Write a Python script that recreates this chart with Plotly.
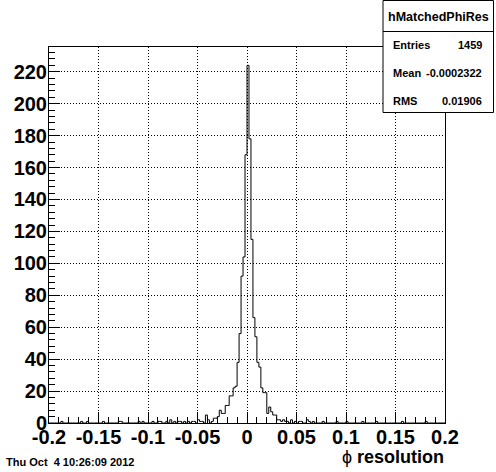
import plotly.graph_objects as go

# ---------------- data ----------------
x_min, x_max, n_bins = -0.2, 0.2, 200

# non-zero bin contents: bin index -> entries (bin i covers [-0.2+0.002*i, -0.2+0.002*(i+1)])
left_tail = {6: 1, 16: 1, 19: 1, 27: 1, 35: 1, 36: 1, 45: 1, 47: 1, 52: 1, 55: 1, 56: 1,
             59: 1, 61: 2, 63: 1, 65: 1, 66: 1, 68: 1, 70: 1, 72: 1, 73: 1, 75: 2, 76: 1, 77: 1}
core = {79: 5, 80: 2, 82: 1, 83: 3, 84: 3, 85: 4, 86: 8, 87: 6, 88: 6, 89: 11, 90: 11,
        91: 17, 92: 17, 93: 22, 94: 23, 95: 38, 96: 56, 97: 92, 98: 104, 99: 168,
        100: 224, 101: 178, 102: 115, 103: 66, 104: 54, 105: 38, 106: 35, 107: 22,
        108: 19, 109: 19, 110: 6, 111: 10, 112: 7, 113: 5, 114: 5, 115: 2}
right_tail = {116: 2, 117: 1, 118: 2, 119: 1, 120: 1, 122: 2, 124: 1, 126: 1, 127: 1,
              130: 2, 131: 1, 133: 1, 138: 1, 145: 1, 150: 1, 158: 1, 165: 1, 178: 1, 190: 1}

x_tick_vals = [-0.2, -0.15, -0.1, -0.05, 0, 0.05, 0.1, 0.15, 0.2]
x_tick_text = ["-0.2", "-0.15", "-0.1", "-0.05", "0", "0.05", "0.1", "0.15", "0.2"]
y_tick_vals = [0, 20, 40, 60, 80, 100, 120, 140, 160, 180, 200, 220]

hist_name = "hMatchedPhiRes"
stat_labels = ["Entries", "Mean", "RMS"]
stat_values = ["1459", "-0.0002322", "0.01906"]
date_text = "Thu Oct  4 10:26:09 2012"
x_title = "ϕ <b>resolution</b>"

# ---------------- build histogram outline ----------------
counts = [0] * n_bins
for d in (left_tail, core, right_tail):
    for k, v in d.items():
        counts[k] = v
width = (x_max - x_min) / n_bins
edges = [x_min + width * i for i in range(n_bins + 1)]
xs = [edges[0]] + edges[:-1] + [edges[-1]]
ys = [0] + counts + [0]

W, H = 496, 472
L, R, T, B = 49, 445, 47, 423
y_top = 235.5

FONT = "Liberation Sans"


def px(xp):
    return (xp - L) / (R - L)


def py(yp):
    return (B - yp) / (B - T)


fig = go.Figure()
fig.add_trace(go.Scatter(x=xs, y=ys, mode="lines",
                         line=dict(color="black", width=1, shape="hv"),
                         hoverinfo="skip", showlegend=False))

axis_common = dict(
    showline=True, mirror=True, linecolor="black", linewidth=1,
    ticks="inside", ticklen=11, tickcolor="black", tickwidth=1,
    showgrid=True, gridcolor="black", gridwidth=1, griddash="1px,2px",
    zeroline=False,
    tickfont=dict(family=FONT, size=20, color="black", weight="bold"),
)

fig.update_xaxes(range=[x_min, x_max], tickvals=x_tick_vals, ticktext=x_tick_text,
                 ticklabelstandoff=-4,
                 minor=dict(ticks="inside", ticklen=6, dtick=0.01, tick0=0,
                            tickcolor="black", showgrid=False),
                 **axis_common)
fig.update_yaxes(range=[0, y_top], tickvals=y_tick_vals,
                 ticklabelstandoff=-3,
                 minor=dict(ticks="inside", ticklen=6, dtick=4, tick0=0,
                            tickcolor="black", showgrid=False),
                 **axis_common)

# stats box
bx0, bx1, by_top, by_sep, by_bot = 383, 493.5, 0.5, 31.5, 112.5
fig.add_shape(type="rect", xref="paper", yref="paper",
              x0=px(bx0), x1=px(bx1), y0=py(by_bot), y1=py(by_top),
              line=dict(color="black", width=1), fillcolor="white", layer="above")
fig.add_shape(type="line", xref="paper", yref="paper",
              x0=px(bx0), x1=px(bx1), y0=py(by_sep), y1=py(by_sep),
              line=dict(color="black", width=1), layer="above")

ann = []
ann.append(dict(text=hist_name, x=px((bx0 + bx1) / 2), y=py(16.5), xref="paper", yref="paper",
                xanchor="center", yanchor="middle", showarrow=False,
                font=dict(family=FONT, size=12.5, color="black", weight="bold")))
row_y = [44.5, 72.5, 101]
for lab, val, ry in zip(stat_labels, stat_values, row_y):
    ann.append(dict(text=lab, x=px(391), y=py(ry), xref="paper", yref="paper",
                    xanchor="left", yanchor="middle", showarrow=False,
                    font=dict(family=FONT, size=11, color="black", weight="bold")))
    ann.append(dict(text=val, x=px(484), y=py(ry), xref="paper", yref="paper",
                    xanchor="right", yanchor="middle", showarrow=False,
                    font=dict(family=FONT, size=11, color="black", weight="bold")))
ann.append(dict(text=date_text, x=px(4), y=py(462), xref="paper", yref="paper",
                xanchor="left", yanchor="middle", showarrow=False,
                font=dict(family=FONT, size=11, color="black", weight="bold")))
ann.append(dict(text=x_title, x=px(446), y=py(457), xref="paper", yref="paper",
                xanchor="right", yanchor="middle", showarrow=False,
                font=dict(family=FONT, size=18, color="black")))

fig.update_layout(
    width=W, height=H,
    margin=dict(l=L, r=W - R, t=T, b=H - B, pad=0),
    paper_bgcolor="white", plot_bgcolor="white",
    annotations=ann, showlegend=False,
)

fig.write_html("out.html", config={"displayModeBar": False, "staticPlot": True},
               post_script="document.body.style.margin='0';document.body.style.overflow='hidden';")
